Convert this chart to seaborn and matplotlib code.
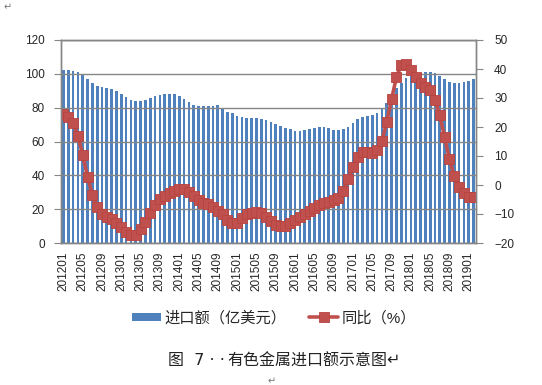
import numpy as np
import pandas as pd
import matplotlib
matplotlib.use("Agg")
import matplotlib.pyplot as plt
import seaborn as sns
from matplotlib.patches import Patch
from matplotlib.lines import Line2D
from matplotlib.ticker import FixedLocator, MultipleLocator

sns.set_style("white")
plt.rcParams['font.family'] = ['Liberation Sans', 'Noto Sans CJK SC', 'DejaVu Sans']

# ---- data ----
months = [f"{y}{m:02d}" for y in range(2012, 2020) for m in range(1, 13)][:86]

import_value = [  # 进口额（亿美元）
    102.2, 102.2, 101.7, 101.1, 99.3, 96.9, 94.7, 92.8, 92.2, 91.6, 91.0, 89.8,
    88.1, 86.3, 84.5, 83.9, 84.1, 84.5, 85.7, 86.9, 87.6, 88.1, 88.1, 88.1,
    86.9, 85.1, 83.3, 81.6, 81.0, 81.0, 81.0, 81.0, 81.6, 79.2, 77.6, 76.7,
    75.1, 74.7, 74.1, 73.9, 73.9, 73.3, 72.7, 71.5, 70.3, 69.1, 68.0, 67.4,
    66.5, 66.3, 66.6, 67.4, 68.0, 68.6, 68.6, 68.0, 66.8, 66.8, 67.4, 68.6,
    70.9, 73.3, 74.5, 75.1, 75.5, 76.8, 79.0, 82.7, 87.0, 91.4, 94.5, 97.3,
    99.0, 99.5, 100.5, 100.9, 100.9, 100.3, 98.7, 96.7, 95.2, 94.6, 94.6, 95.2,
    95.7, 96.7,
]

yoy = [  # 同比（%）
    24.5, 23.6, 21.3, 16.9, 10.3, 2.9, -3.5, -7.7, -10.0, -11.1, -11.8, -13.2,
    -14.6, -16.3, -17.3, -17.2, -15.3, -12.6, -9.8, -6.9, -4.9, -3.8, -2.9, -2.1,
    -1.5, -1.5, -2.3, -3.8, -5.2, -6.1, -6.7, -7.7, -8.9, -10.0, -12.1, -13.2,
    -13.0, -11.5, -10.0, -9.5, -9.3, -9.8, -11.0, -12.5, -13.8, -14.2, -14.1, -13.2,
    -12.0, -11.0, -10.0, -9.0, -8.0, -6.8, -6.2, -5.8, -5.3, -4.5, -2.0, 2.0,
    6.2, 9.8, 11.5, 11.3, 11.1, 12.0, 15.2, 21.6, 29.6, 37.1, 41.4, 41.7,
    39.7, 37.1, 35.1, 33.9, 32.8, 29.3, 24.0, 16.4, 8.9, 3.1, -0.6, -2.9,
    -4.0, -4.2,
]

bar_label = "进口额（亿美元）"
line_label = "同比（%）"
caption_num = "图  7 · ·"
caption_text = "有色金属进口额示意图↵"

df = pd.DataFrame({'month': months, 'import': import_value, 'yoy': yoy})
df['idx'] = np.arange(len(df))

blue = '#4F81BD'
red = '#C0504D'
grey = '#868686'

fig = plt.figure(figsize=(5.42, 3.85), dpi=100)
ax = fig.add_axes([61 / 542, 1 - 243 / 385, 415 / 542, 203 / 385])

sns.barplot(data=df, x='month', y='import', color=blue, saturation=1,
            width=0.56, linewidth=0, ax=ax)
ax.set_axisbelow(False)

ax2 = ax.twinx()
sns.lineplot(data=df, x='idx', y='yoy', color=red, marker='s', markersize=7.5,
             markeredgecolor='#B8433F', markeredgewidth=0.6, linewidth=2.6,
             ax=ax2)

# ---- axes ----
ax.set_xlim(-0.5, len(df) - 0.5)
ax.set_ylim(0, 120)
ax2.set_ylim(-20, 50)
ax.yaxis.set_major_locator(MultipleLocator(20))
ax2.yaxis.set_major_locator(MultipleLocator(10))

ax.xaxis.set_major_locator(FixedLocator(df['idx'][::4]))
ax.set_xticklabels(df['month'][::4], rotation=90)
ax.xaxis.set_minor_locator(FixedLocator(np.arange(len(df) + 1) - 0.5))
ax.tick_params(axis='x', which='major', length=0, pad=6, labelsize=8.5)
ax.tick_params(axis='x', which='minor', length=4, color=grey, width=0.8)
ax.tick_params(axis='y', length=5, color=grey, pad=6.5, labelsize=8.5, left=True)
ax2.tick_params(axis='y', length=5, color=grey, pad=8, labelsize=8.5, right=True)

ax.yaxis.grid(True, color=grey, linewidth=1, zorder=3)
ax.xaxis.grid(False)
for a in (ax, ax2):
    for s in a.spines.values():
        s.set_color(grey)
        s.set_linewidth(1)
ax.set_xlabel('')
ax.set_ylabel('')
ax2.set_xlabel('')
ax2.set_ylabel('')

# ---- legend ----
handles = [Patch(facecolor=blue, edgecolor='none'),
           Line2D([], [], color=red, linewidth=2.6, marker='s', markersize=7.5,
                  markeredgecolor='#B8433F', markeredgewidth=0.6)]
fig.legend(handles, [bar_label, line_label], loc='center',
           bbox_to_anchor=(274 / 542, 1 - 318 / 385), ncol=2, frameon=False,
           fontsize=11, handlelength=1.9, handleheight=0.5,
           columnspacing=1.5, handletextpad=0.2)

# ---- caption & paragraph marks ----
fig.text(168 / 542, 1 - 361 / 385, caption_num, fontsize=11.5, ha='left', va='center',
         color='#222222', family=['DejaVu Sans', 'Noto Sans CJK SC'])
fig.text(227 / 542, 1 - 361 / 385, caption_text, fontsize=11.5, ha='left', va='center',
         color='#222222', family=['DejaVu Sans', 'Noto Sans CJK SC'])
fig.text(4 / 542, 1 - 7 / 385, "↵", fontsize=7, color='#777777', ha='left',
         va='center', family=['DejaVu Sans'])
fig.text(268 / 542, 1 - 381 / 385, "↵", fontsize=7, color='#777777', ha='left',
         va='center', family=['DejaVu Sans'])

fig.savefig("out.png", dpi=100)
